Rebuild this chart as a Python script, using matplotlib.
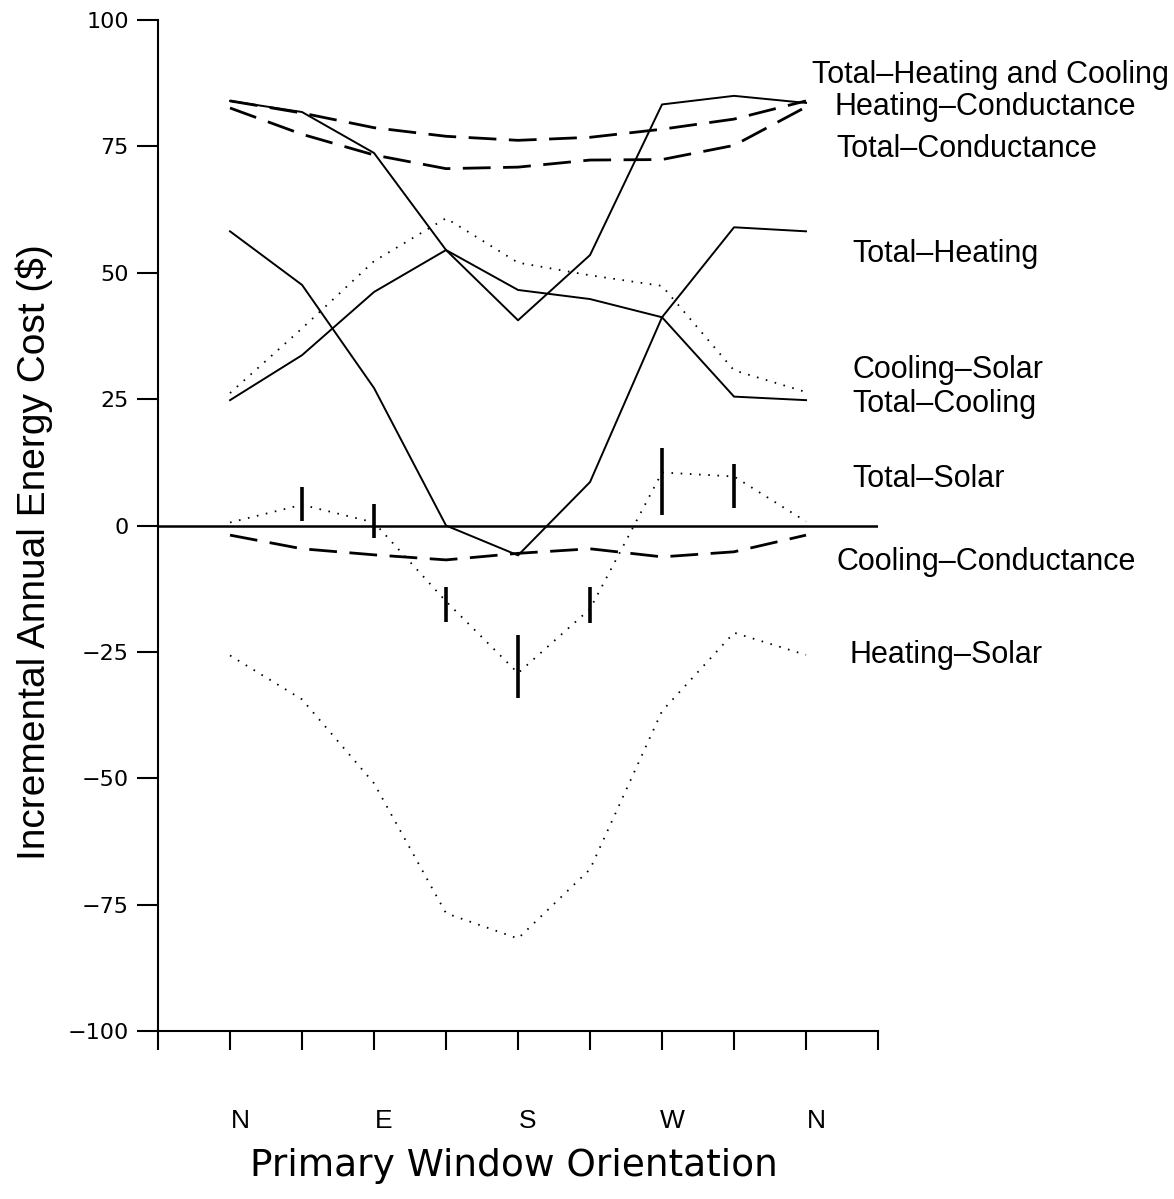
import numpy as np
import matplotlib
matplotlib.use("Agg")
import matplotlib.pyplot as plt
import matplotlib.transforms as mtransforms

# window orientations along the x axis
orient = ["N", "NE", "E", "SE", "S", "SW", "W", "NW", "N"]
compass = ["N", "E", "S", "W", "N"]

# incremental annual energy cost ($)
total_hc = [84.0, 81.8, 73.7, 54.5, 40.6, 53.5, 83.3, 85.0, 83.6]
heating_cond = [84.0, 81.6, 78.7, 77.0, 76.2, 76.8, 78.4, 80.4, 84.0]
total_cond = [82.6, 77.4, 73.3, 70.6, 70.9, 72.3, 72.4, 75.2, 82.8]
total_heating = [58.2, 47.6, 27.2, 0.0, -5.9, 8.6, 41.2, 59.0, 58.2]
cooling_solar = [26.2, 39.0, 52.3, 60.8, 52.0, 49.5, 47.4, 30.7, 26.4]
total_cooling = [24.8, 33.7, 46.2, 54.5, 46.6, 44.8, 41.2, 25.5, 24.8]
total_solar = [0.6, 4.1, 0.6, -15.0, -29.2, -16.5, 10.5, 9.7, 0.8]
cooling_cond = [-1.9, -4.6, -5.8, -6.8, -5.5, -4.6, -6.2, -5.2, -1.9]
heating_solar = [-25.7, -34.4, -51.0, -76.7, -81.7, -68.0, -36.7, -21.2, -25.6]

# range bars on total solar
bar_orient = ["NE", "E", "SE", "S", "SW", "W", "NW"]
bar_hi = [7.6, 4.2, -12.2, -21.7, -12.2, 15.3, 12.2]
bar_lo = [0.9, -2.5, -19.1, -34.2, -19.3, 2.1, 3.5]

x = np.arange(1, len(orient) + 1)
bar_x = [orient.index(o) + 1 for o in bar_orient]

fig = plt.figure(figsize=(11.74, 11.99), dpi=100)
ax = fig.add_axes([0.1346, 0.1401, 0.6133, 0.8432])

solid = dict(color="black", lw=1.4, ls="-")
dashed = dict(color="black", lw=2.0, ls=(0, (10, 4.5)))
dotted = dict(color="black", lw=1.3, ls=(0, (0.9, 4.2)))

ax.axhline(0, color="black", lw=1.8)
ax.plot(x, total_hc, **solid)
ax.plot(x, heating_cond, **dashed)
ax.plot(x, total_cond, **dashed)
ax.plot(x, total_heating, **solid)
ax.plot(x, cooling_solar, **dotted)
ax.plot(x, total_cooling, **solid)
ax.plot(x, total_solar, **dotted)
ax.plot(x, cooling_cond, **dashed)
ax.plot(x, heating_solar, **dotted)
ax.vlines(bar_x, bar_lo, bar_hi, color="black", lw=2.6)

ax.set_xlim(0, 10)
ax.set_ylim(-100, 100)
ax.set_yticks(np.arange(-100, 101, 25))
ax.set_xticks(np.arange(0, 11), minor=True)
ax.set_xticks([1, 3, 5, 7, 9])
ax.set_xticklabels(compass, fontsize=19, family="Liberation Sans")
ax.tick_params(axis="x", which="both", direction="out", length=14, width=1.5, pad=42)
ax.tick_params(axis="y", direction="out", length=15, width=1.5, pad=6, labelsize=16)
offset = mtransforms.ScaledTranslation(10 / 100, 0, fig.dpi_scale_trans)
for lab in ax.get_xticklabels():
    lab.set_transform(lab.get_transform() + offset)

for s in ["top", "right"]:
    ax.spines[s].set_visible(False)
for s in ["left", "bottom"]:
    ax.spines[s].set_linewidth(1.5)

ax.set_ylabel("Incremental Annual Energy Cost ($)", fontsize=28,
              family="Liberation Sans", va="center")
ax.yaxis.set_label_coords(-0.172, 0.474)
ax.set_xlabel("Primary Window Orientation", fontsize=27, va="center")
ax.xaxis.set_label_coords(0.494, -0.1335)

# curve labels on the right
labels = ["Total\u2013Heating and Cooling", "Heating\u2013Conductance",
          "Total\u2013Conductance", "Total\u2013Heating", "Cooling\u2013Solar",
          "Total\u2013Cooling", "Total\u2013Solar", "Cooling\u2013Conductance",
          "Heating\u2013Solar"]
label_x = [9.08, 9.39, 9.42, 9.64, 9.64, 9.64, 9.65, 9.42, 9.61]
label_y = [87.5, 81.2, 72.9, 52.1, 29.2, 22.5, 7.6, -8.8, -27.2]
for t, lx, ly in zip(labels, label_x, label_y):
    ax.text(lx, ly, t, fontsize=22, family="Liberation Sans", ha="left",
            va="baseline", clip_on=False)

fig.savefig("out.png", dpi=100)
